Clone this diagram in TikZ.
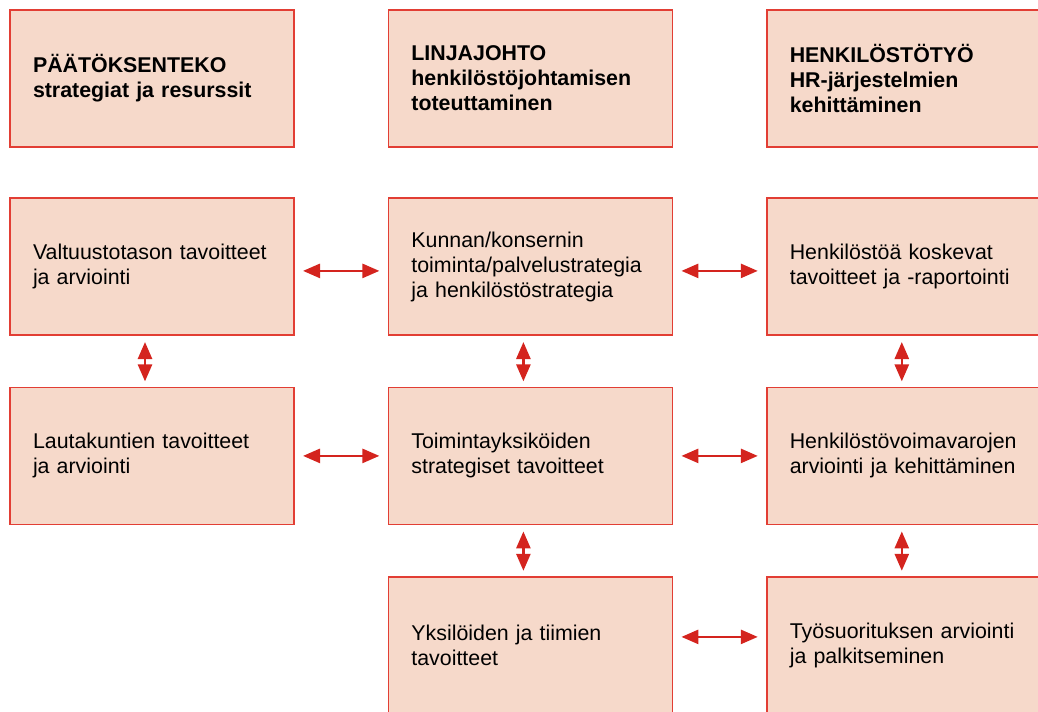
\documentclass[tikz,border=0pt]{standalone}
\usepackage{fontspec}
\setmainfont{Liberation Sans}
\usepackage{xcolor}
\usetikzlibrary{positioning,arrows.meta}
\definecolor{boxfill}{RGB}{246,217,202}
\definecolor{boxline}{RGB}{226,62,52}
\definecolor{arrred}{RGB}{212,36,30}
\tikzset{
  box/.style  ={draw=boxline, line width=0.4mm, fill=boxfill, align=left,
                text width=59.5mm, inner xsep=5.75mm, inner ysep=0pt, outer sep=0pt,
                minimum width=71mm, minimum height=34.25mm,
                font=\fontsize{15.2}{17.8}\selectfont},
  hbox/.style ={box, font=\fontsize{15.2}{17.8}\selectfont\bfseries},
  arr/.style  ={{Triangle[length=4.25mm,width=3.5mm]}-{Triangle[length=4.25mm,width=3.5mm]},
                draw=arrred, fill=arrred, line width=0.65mm},
}
\begin{document}
\begin{tikzpicture}[node distance=12.75mm and 23.6mm]
\useasboundingbox (0,0) rectangle (259.5mm,-177.75mm);
\clip (0,0) rectangle (259.5mm,-177.75mm);
% headers
\node[hbox,anchor=north west] (paat) at (2.5mm,-2.5mm) {PÄÄTÖKSENTEKO\\ strategiat ja resurssit};
\node[hbox,right=of paat] (linja) {LINJAJOHTO\\ henkilöstöjohtamisen\\ toteuttaminen};
\node[hbox,right=of linja] (henk) {HENKILÖSTÖTYÖ\\ HR-järjestelmien\\ kehittäminen};

% row 1
\node[box,below=of paat] (valt) {Valtuustotason tavoitteet\\ ja arviointi};
\node[box,below=of linja] (kunta) {Kunnan/konsernin\\ toiminta/palvelustrategia\\ ja henkilöstöstrategia};
\node[box,below=of henk] (hkosk) {Henkilöstöä koskevat\\ tavoitteet ja -raportointi};

% row 2
\node[box,below=13.1mm of valt] (lauta) {Lautakuntien tavoitteet\\ ja arviointi};
\node[box,below=13.1mm of kunta] (toim) {Toimintayksiköiden\\ strategiset tavoitteet};
\node[box,below=13.1mm of hkosk] (hvoima) {Henkilöstövoimavarojen\\ arviointi ja kehittäminen};

% row 3
\node[box,below=13.1mm of toim] (yksi) {Yksilöiden ja tiimien\\ tavoitteet};
\node[box,below=13.1mm of hvoima] (tyos) {Työsuorituksen arviointi\\ ja palkitseminen};

% horizontal arrows
\draw[arr] ([xshift=2.25mm,yshift=-1.1mm]valt.east) -- ([xshift=-2.25mm,yshift=-1.1mm]kunta.west);
\draw[arr] ([xshift=2.25mm,yshift=-1.1mm]kunta.east) -- ([xshift=-2.25mm,yshift=-1.1mm]hkosk.west);
\draw[arr] ([xshift=2.25mm]lauta.east) -- ([xshift=-2.25mm]toim.west);
\draw[arr] ([xshift=2.25mm]toim.east) -- ([xshift=-2.25mm]hvoima.west);
\draw[arr] ([xshift=2.25mm,yshift=2.1mm]yksi.east) -- ([xshift=-2.25mm,yshift=2.1mm]tyos.west);

% vertical arrows
\draw[arr] ([xshift=-1.75mm,yshift=-1.75mm]valt.south) -- ([xshift=-1.75mm,yshift=1.5mm]lauta.north);
\draw[arr] ([xshift=-1.75mm,yshift=-1.75mm]kunta.south) -- ([xshift=-1.75mm,yshift=1.5mm]toim.north);
\draw[arr] ([xshift=-1.75mm,yshift=-1.75mm]hkosk.south) -- ([xshift=-1.75mm,yshift=1.5mm]hvoima.north);
\draw[arr] ([xshift=-1.75mm,yshift=-1.75mm]toim.south) -- ([xshift=-1.75mm,yshift=1.5mm]yksi.north);
\draw[arr] ([xshift=-1.75mm,yshift=-1.75mm]hvoima.south) -- ([xshift=-1.75mm,yshift=1.5mm]tyos.north);
\end{tikzpicture}
\end{document}
